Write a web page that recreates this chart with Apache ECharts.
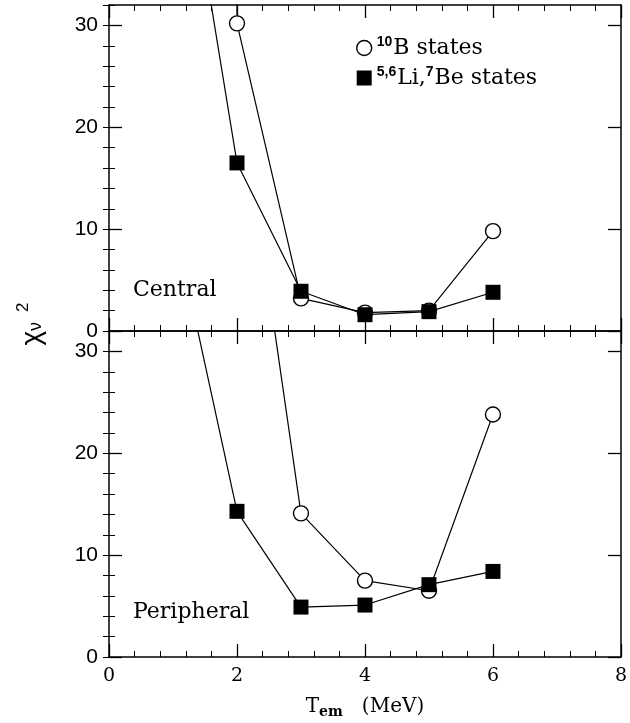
<!DOCTYPE html>
<html><head><meta charset="utf-8">
<script src="https://cdn.jsdelivr.net/npm/echarts@6/dist/echarts.min.js"></script>
<style>html,body{margin:0;padding:0;background:#fff}#c{width:630px;height:723px}</style>
</head><body><div id="c"></div>
<script>
// ---- data ----
var xTicks = [0, 2, 4, 6, 8];
var yTickLabels = [0, 10, 20, 30];
var seriesNames = ['B10', 'LiBe'];
// Central panel
var centralB10 = [[2, 30.2], [3, 3.2], [4, 1.8], [5, 2.0], [6, 9.8]];
var centralB10Bar = [[2, 30.2], [2, 40]];
var centralLiBe = [[1, 55], [2, 16.5], [3, 3.9], [4, 1.6], [5, 1.9], [6, 3.8]];
// Peripheral panel
var periphB10 = [[2, 57.7], [3, 14.1], [4, 7.5], [5, 6.5], [6, 23.8]];
var periphLiBe = [[1, 43.2], [2, 14.3], [3, 4.9], [4, 5.1], [5, 7.1], [6, 8.4]];
var panelLabels = ['Central', 'Peripheral'];

var FONT = '"DejaVu Serif", "Liberation Serif", serif';
var SANS = '"Liberation Sans", Arial, sans-serif';
var chart = echarts.init(document.getElementById('c'), null, {renderer: 'canvas'});

var grids = [
  {left: 109, width: 512, top: 5, height: 326},
  {left: 109, width: 512, top: 331, height: 326}
];

function xAx(g, pos, showLabel) {
  var a = {
    type: 'value', gridIndex: g, position: pos, min: 0, max: 8, interval: 2,
    axisLine: {show: true, onZero: false, lineStyle: {color: '#000', width: 1.5}},
    axisTick: {show: true, inside: true, length: 13, lineStyle: {color: '#000', width: 1.3}},
    minorTick: {show: true, splitNumber: 5, length: 6, lineStyle: {color: '#000', width: 1}},
    splitLine: {show: false},
    axisLabel: {show: showLabel, color: '#000', fontSize: 19, fontFamily: FONT, margin: 10}
  };
  if (showLabel) {
    a.name = '{t|T}{s|em}{t|   (MeV)}';
    a.nameLocation = 'middle';
    a.nameGap = 38;
    a.nameTextStyle = {
      color: '#000', fontFamily: FONT,
      rich: {
        t: {fontSize: 20, fontFamily: FONT, color: '#000', lineHeight: 24},
        s: {fontSize: 14, fontFamily: FONT, color: '#000', fontWeight: 'bold', lineHeight: 14, verticalAlign: 'bottom'}
      }
    };
  }
  return a;
}
function yMajor(g, pos, showLabel) {
  return {
    type: 'value', gridIndex: g, position: pos, min: 0, max: 32,
    axisLine: {show: true, onZero: false, lineStyle: {color: '#000', width: 1.5}},
    axisTick: {show: true, inside: true, length: 13, customValues: yTickLabels, lineStyle: {color: '#000', width: 1.3}},
    splitLine: {show: false},
    axisLabel: {show: showLabel, customValues: yTickLabels, color: '#000', fontSize: 21, fontFamily: SANS, margin: 11}
  };
}
function yMinor(g, pos) {
  return {
    type: 'value', gridIndex: g, position: pos, min: 0, max: 32, interval: 2,
    axisLine: {show: false},
    axisTick: {show: true, inside: true, length: 6, lineStyle: {color: '#000', width: 1}},
    splitLine: {show: false},
    axisLabel: {show: false}
  };
}

var xAxes = [xAx(0, 'bottom', false), xAx(0, 'top', false), xAx(1, 'bottom', true), xAx(1, 'top', false)];
var yAxes = [yMajor(0, 'left', true), yMinor(0, 'left'), yMajor(0, 'right', false), yMinor(0, 'right'),
             yMajor(1, 'left', true), yMinor(1, 'left'), yMajor(1, 'right', false), yMinor(1, 'right')];

var circleStyle = {color: '#fff', borderColor: '#000', borderWidth: 1.4};
var squareStyle = {color: '#000', borderColor: '#000', borderWidth: 0};
function mk(name, data, xi, yi, sym, style) {
  return {
    name: name, type: 'line', data: data, xAxisIndex: xi, yAxisIndex: yi,
    symbol: sym, symbolSize: 15, showSymbol: sym !== 'none',
    itemStyle: style, lineStyle: {color: '#000', width: 1.2}, clip: true,
    animation: false, z: sym === 'rect' ? 3 : 2
  };
}

var series = [
  mk(seriesNames[0], centralB10, 0, 0, 'circle', circleStyle),
  mk('bar', centralB10Bar, 0, 0, 'none', circleStyle),
  mk(seriesNames[1], centralLiBe, 0, 0, 'rect', squareStyle),
  mk(seriesNames[0], periphB10, 2, 4, 'circle', circleStyle),
  mk(seriesNames[1], periphLiBe, 2, 4, 'rect', squareStyle)
];
series[1].silent = true;
series[1].z = 1;

var legendRich = {
  t: {fontSize: 22, fontFamily: FONT, color: '#000', lineHeight: 26},
  p: {fontSize: 14, fontFamily: SANS, fontWeight: 'bold', color: '#000', lineHeight: 14, verticalAlign: 'top', padding: [0, 1, 0, 0]}
};

chart.setOption({
  animation: false,
  backgroundColor: '#fff',
  grid: grids,
  xAxis: xAxes,
  yAxis: yAxes,
  legend: {
    orient: 'vertical', left: 351, top: 30, itemWidth: 15, itemHeight: 15, itemGap: 6,
    selectedMode: false,
    data: [
      {name: seriesNames[0], icon: 'circle', itemStyle: {color: '#fff', borderColor: '#000', borderWidth: 1.4}},
      {name: seriesNames[1], icon: 'rect', itemStyle: {color: '#000', borderWidth: 0}}
    ],
    formatter: function (n) {
      return n === seriesNames[0] ? '{p|10}{t|B states}' : '{p|5,6}{t|Li,}{p|7}{t|Be states}';
    },
    textStyle: {fontFamily: FONT, color: '#000', fontSize: 22, rich: legendRich}
  },
  graphic: [
    {type: 'text', left: 133, top: 279, style: {text: panelLabels[0], font: '22px ' + FONT, fill: '#000'}},
    {type: 'text', left: 133, top: 601, style: {text: panelLabels[1], font: '22px ' + FONT, fill: '#000'}},
    {type: 'text', x: 32, y: 324, rotation: Math.PI / 2,
     style: {text: '{c|χ}{n|ν}{p|2}', align: 'center', verticalAlign: 'middle', fill: '#000',
       rich: {
         c: {fontSize: 28, fontFamily: SANS, color: '#000', lineHeight: 34},
         n: {fontSize: 18, fontFamily: SANS, color: '#000', lineHeight: 18, verticalAlign: 'bottom', padding: [0, 0, 4, 0]},
         p: {fontSize: 17, fontFamily: SANS, color: '#000', lineHeight: 17, verticalAlign: 'top', padding: [0, 0, 0, 10]}
       }}}
  ],
  series: series
});
</script></body></html>
